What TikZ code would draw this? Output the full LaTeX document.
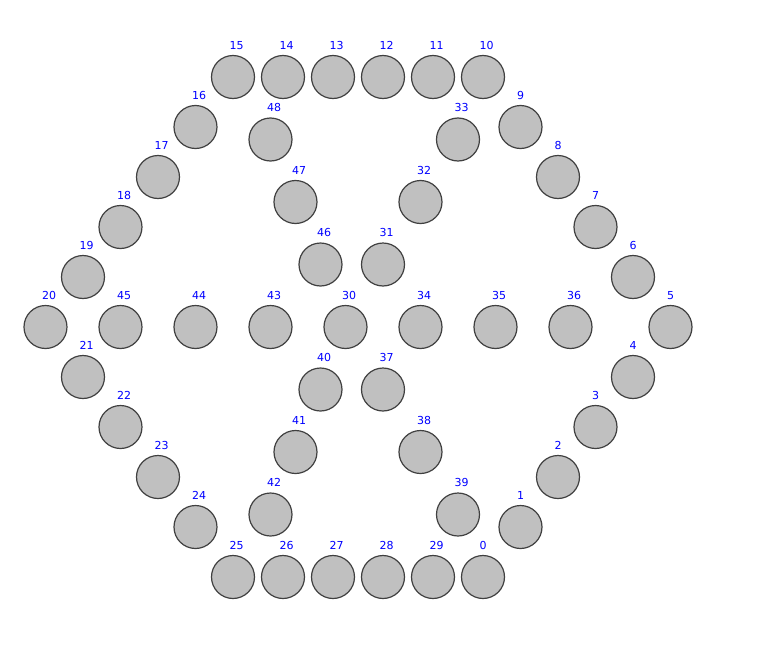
\documentclass[tikz,border=0pt]{standalone}
\usepackage{fontspec}
\setsansfont{DejaVu Sans}
\usetikzlibrary{calc}
\definecolor{ballgray}{HTML}{C0C0C0}
\definecolor{rimgray}{HTML}{404040}
\definecolor{tagblue}{HTML}{0000FF}

\begin{document}
\begin{tikzpicture}[
  x=1pt, y=1pt,
  ball/.style={circle, draw=rimgray, fill=ballgray, line width=1.2pt,
    minimum size=43pt, inner sep=0pt},
  tag/.style={tagblue, font=\sffamily\fontsize{11}{13}\selectfont,
    anchor=base west, inner sep=0pt},
]

% ══════════════════════════════════════════════════════
% Canvas (origin at the centre of the outer ring)
% ══════════════════════════════════════════════════════
\useasboundingbox (-358,-322) rectangle (419,327);

% ══════════════════════════════════════════════════════
% Outer ring: balls 0 -- 29
% ══════════════════════════════════════════════════════
\foreach \n/\px/\py in {%
  0/125/-250, 1/162.5/-200, 2/200/-150, 3/237.5/-100, 4/275/-50,%
  5/312.5/0, 6/275/50, 7/237.5/100, 8/200/150, 9/162.5/200,%
  10/125/250, 11/75/250, 12/25/250, 13/-25/250, 14/-75/250,%
  15/-125/250, 16/-162.5/200, 17/-200/150, 18/-237.5/100, 19/-275/50,%
  20/-312.5/0, 21/-275/-50, 22/-237.5/-100, 23/-200/-150, 24/-162.5/-200,%
  25/-125/-250, 26/-75/-250, 27/-25/-250, 28/25/-250, 29/75/-250%
}{
  \node[ball] (b\n) at (\px, \py) {};
  \node[tag] (t\n) at ($(b\n.center)+(-3.5,28)$) {\n};
}

% ══════════════════════════════════════════════════════
% Inner star: balls 30 -- 48
% ══════════════════════════════════════════════════════
\foreach \n/\px/\py in {%
  30/-12.5/0, 31/25/62.5, 32/62.5/125, 33/100/187.5,%
  34/62.5/0, 35/137.5/0, 36/212.5/0,%
  37/25/-62.5, 38/62.5/-125, 39/100/-187.5,%
  40/-37.5/-62.5, 41/-62.5/-125, 42/-87.5/-187.5,%
  43/-87.5/0, 44/-162.5/0, 45/-237.5/0,%
  46/-37.5/62.5, 47/-62.5/125, 48/-87.5/187.5%
}{
  \node[ball] (b\n) at (\px, \py) {};
  \node[tag] (t\n) at ($(b\n.center)+(-3.5,28)$) {\n};
}

\end{tikzpicture}
\end{document}
